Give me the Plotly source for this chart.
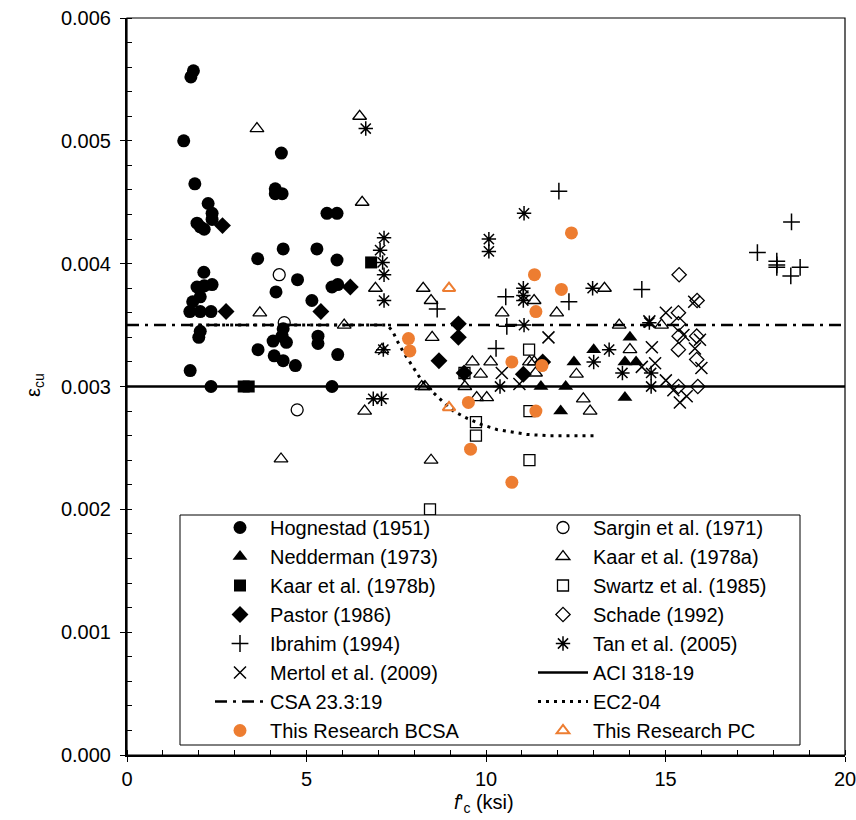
import plotly.graph_objects as go

# ---------------- data (f'c in ksi, eps_cu) ----------------
hog_x = [1.85, 1.78, 1.58, 4.30, 1.89, 4.13, 4.13, 4.32, 2.26, 2.37, 2.37, 1.95, 2.04, 2.15, 5.57, 5.85,
         4.35, 5.29, 3.64, 5.85, 2.14, 1.95, 2.15, 2.37, 2.04, 1.83, 1.75, 2.04, 2.34, 4.75, 4.15, 5.15,
         5.71, 5.87, 4.35, 4.32, 4.44, 4.07, 4.10, 4.35, 4.69, 3.65, 2.04, 2.00, 1.76, 5.32, 5.32, 5.87,
         2.34, 5.71]
hog_y = [0.00557, 0.00552, 0.00500, 0.00490, 0.00465, 0.00461, 0.00457, 0.00457, 0.00449, 0.00441, 0.00436,
         0.00433, 0.00430, 0.00428, 0.00441, 0.00441, 0.00412, 0.00412, 0.00404, 0.00403, 0.00393, 0.00381,
         0.00382, 0.00383, 0.00373, 0.00369, 0.00361, 0.00361, 0.00361, 0.00387, 0.00377, 0.00370, 0.00381,
         0.00383, 0.00347, 0.00341, 0.00336, 0.00337, 0.00325, 0.00321, 0.00317, 0.00330, 0.00345, 0.00340,
         0.00313, 0.00341, 0.00335, 0.00326, 0.00300, 0.00300]

sar_x = [4.24, 4.74, 4.38]
sar_y = [0.00391, 0.00281, 0.00352]

ned_x = [11.53, 12.22, 12.45, 13.00, 12.08, 13.87, 14.18, 14.01, 13.87]
ned_y = [0.00300, 0.00300, 0.00320, 0.00330, 0.00280, 0.00320, 0.00320, 0.00340, 0.00291]

kaa_x = [3.62, 6.48, 6.55, 3.70, 6.92, 6.05, 6.62, 4.29, 8.25, 8.47, 10.45, 11.34, 11.97, 13.30, 8.50,
         9.62, 10.13, 11.21, 11.34, 9.85, 11.38, 12.52, 8.21, 8.30, 9.41, 9.74, 10.02, 12.71, 12.90, 8.47,
         13.71, 14.89, 14.01, 7.10]
kaa_y = [0.00510, 0.00520, 0.00450, 0.00360, 0.00380, 0.00350, 0.00280, 0.00241, 0.00380, 0.00370, 0.00360,
         0.00370, 0.00360, 0.00380, 0.00340, 0.00320, 0.00320, 0.00320, 0.00320, 0.00310, 0.00311, 0.00310,
         0.00300, 0.00300, 0.00300, 0.00291, 0.00291, 0.00290, 0.00280, 0.00240, 0.00350, 0.00350, 0.00330,
         0.00330]

kab_x = [6.80, 3.25, 3.39]
kab_y = [0.00401, 0.00300, 0.00300]

swa_x = [9.40, 11.20, 11.21, 9.72, 9.72, 11.21, 8.44]
swa_y = [0.00311, 0.00330, 0.00280, 0.00271, 0.00260, 0.00240, 0.00200]

pas_x = [2.66, 2.76, 5.40, 6.22, 9.23, 9.23, 8.69, 9.39, 11.04, 11.58]
pas_y = [0.00431, 0.00361, 0.00361, 0.00381, 0.00351, 0.00340, 0.00321, 0.00311, 0.00310, 0.00320]

sch_x = [15.38, 15.36, 15.36, 15.38, 15.36, 15.88, 15.87, 15.87, 15.36, 15.90]
sch_y = [0.00391, 0.00360, 0.00351, 0.00341, 0.00330, 0.00370, 0.00341, 0.00322, 0.00300, 0.00300]

ibr_x = [12.03, 8.64, 10.55, 12.31, 10.58, 10.28, 14.34, 17.56, 18.51, 18.10, 18.10, 18.10, 18.75, 18.49]
ibr_y = [0.00459, 0.00363, 0.00373, 0.00369, 0.00349, 0.00331, 0.00379, 0.00409, 0.00434, 0.00402,
         0.00399, 0.00397, 0.00397, 0.00390]

tan_x = [6.65, 7.16, 7.05, 7.12, 7.16, 7.16, 7.14, 6.86, 7.09, 10.08, 10.08, 11.06, 11.04, 11.04, 11.04,
         11.06, 10.39, 12.97, 13.00, 13.43, 13.80, 14.55, 14.60, 14.60]
tan_y = [0.00510, 0.00421, 0.00411, 0.00401, 0.00391, 0.00370, 0.00330, 0.00290, 0.00290, 0.00420, 0.00410,
         0.00441, 0.00380, 0.00374, 0.00370, 0.00350, 0.00300, 0.00380, 0.00320, 0.00330, 0.00311, 0.00352,
         0.00311, 0.00300]

mer_x = [10.44, 10.93, 11.74, 14.55, 15.01, 15.80, 15.96, 15.82, 15.50, 16.00, 14.62, 14.34, 14.71, 15.01,
         15.22, 15.59, 15.40]
mer_y = [0.00311, 0.00302, 0.00340, 0.00353, 0.00360, 0.00369, 0.00338, 0.00331, 0.00342, 0.00315, 0.00332,
         0.00316, 0.00319, 0.00305, 0.00297, 0.00292, 0.00287]

aci_x = [0, 20]
aci_y = [0.003, 0.003]

csa_x = [0, 20]
csa_y = [0.0035, 0.0035]

ec2_x = [1.76, 7.25, 7.40, 7.51, 7.70, 7.93, 8.16, 8.39, 8.63, 8.86, 9.09, 9.28, 9.48, 9.88, 10.30, 10.72,
         11.13, 11.70, 13.08]
ec2_y = [0.00350, 0.00350, 0.00345, 0.00338, 0.00328, 0.00317, 0.00307, 0.00299, 0.00292, 0.00286, 0.00280,
         0.00277, 0.00274, 0.00269, 0.00265, 0.00263, 0.00261, 0.00260, 0.00260]

bcsa_x = [7.84, 7.88, 9.51, 9.57, 10.72, 10.72, 11.35, 11.39, 11.39, 11.56, 12.10, 12.38]
bcsa_y = [0.00339, 0.00329, 0.00287, 0.00249, 0.00320, 0.00222, 0.00391, 0.00361, 0.00280, 0.00317,
          0.00379, 0.00425]

pc_x = [8.97, 8.97]
pc_y = [0.00380, 0.00283]

# ---------------- figure ----------------
BLACK = "black"
ORANGE = "#ED7D31"
FONT = "Liberation Sans, Arial, sans-serif"
FS = 20

# plot area in pixels
PL, PR, PT, PB = 127, 845, 18, 755
PW, PH = PR - PL, PB - PT


def px_x(p):
    return (p - PL) / PW


def px_y(p):
    return (PB - p) / PH


fig = go.Figure()


def pts(name, x, y, symbol, size, color=BLACK, lw=1.3):
    fig.add_trace(go.Scatter(
        x=x, y=y, name=name, mode="markers",
        marker=dict(symbol=symbol, size=size, color=color,
                    line=dict(color=color, width=lw)),
    ))


def line(name, x, y, dash, width):
    fig.add_trace(go.Scatter(
        x=x, y=y, name=name, mode="lines",
        line=dict(color=BLACK, width=width, dash=dash),
    ))


pts("Hognestad (1951)", hog_x, hog_y, "circle", 13, lw=0)
pts("Sargin et al. (1971)", sar_x, sar_y, "circle-open", 12)
pts("Nedderman (1973)", ned_x, ned_y, "triangle-up", 13, lw=0)
pts("Kaar et al. (1978a)", kaa_x, kaa_y, "triangle-up-open", 12)
pts("Kaar et al. (1978b)", kab_x, kab_y, "square", 12, lw=0)
pts("Swartz et al. (1985)", swa_x, swa_y, "square-open", 11)
pts("Pastor (1986)", pas_x, pas_y, "diamond", 13, lw=0)
pts("Schade (1992)", sch_x, sch_y, "diamond-open", 11)
pts("Ibrahim (1994)", ibr_x, ibr_y, "cross-thin-open", 12, lw=1.5)
pts("Tan et al. (2005)", tan_x, tan_y, "asterisk-open", 12, lw=1.5)
pts("Mertol et al. (2009)", mer_x, mer_y, "x-thin-open", 12, lw=1.5)
line("ACI 318-19", aci_x, aci_y, "solid", 2.5)
line("CSA 23.3:19", csa_x, csa_y, "12px,6px,3px,6px", 2.5)
line("EC2-04", ec2_x, ec2_y, "3px,5px", 3)
pts("This Research BCSA", bcsa_x, bcsa_y, "circle", 13, color=ORANGE, lw=0)
pts("This Research PC", pc_x, pc_y, "triangle-up-open", 11, color=ORANGE, lw=2)

fig.update_layout(
    width=856, height=820,
    margin=dict(l=PL, r=856 - PR, t=PT, b=820 - PB, autoexpand=False),
    paper_bgcolor="white", plot_bgcolor="white",
    font=dict(family=FONT, size=FS, color=BLACK),
    showlegend=True,
    legend=dict(
        orientation="h",
        x=px_x(210), y=px_y(508),
        xanchor="left", yanchor="top",
        entrywidth=258, entrywidthmode="pixels",
        itemwidth=50,
        bgcolor="rgba(0,0,0,0)", borderwidth=0,
        font=dict(family=FONT, size=FS, color=BLACK),
        tracegroupgap=0,
    ),
    xaxis=dict(
        range=[0, 20], tickvals=[0, 5, 10, 15, 20],
        showgrid=False, zeroline=False,
        showline=True, linecolor=BLACK, linewidth=2,
        ticks="outside", ticklen=5, tickwidth=1, tickcolor=BLACK,
        minor=dict(dtick=1, ticks="inside", ticklen=5, tickwidth=1, tickcolor=BLACK, showgrid=False),
        tickfont=dict(family=FONT, size=FS),
        ticklabeloverflow="allow",
    ),
    yaxis=dict(
        range=[0, 0.006], dtick=0.001, tickformat=".3f",
        showgrid=False, zeroline=False,
        showline=True, linecolor=BLACK, linewidth=2,
        ticks="outside", ticklen=5, tickwidth=1, tickcolor=BLACK,
        minor=dict(dtick=0.0002, ticks="inside", ticklen=5, tickwidth=1, tickcolor=BLACK, showgrid=False),
        tickfont=dict(family=FONT, size=FS),
        ticklabeloverflow="allow",
        ticklabelstandoff=5,
    ),
)

# plot-area border (top/right)
fig.add_shape(type="rect", xref="paper", yref="paper", x0=0, y0=0, x1=1, y1=1,
              line=dict(color=BLACK, width=1.2), fillcolor="rgba(0,0,0,0)", layer="above")

# legend box
fig.add_shape(type="rect", xref="paper", yref="paper",
              x0=px_x(180), x1=px_x(800), y0=px_y(745), y1=px_y(515),
              line=dict(color=BLACK, width=1), fillcolor="white", layer="above")

# axis titles
fig.add_annotation(text="ε<sub>cu</sub>", xref="paper", yref="paper",
                   x=px_x(35), y=px_y(385), showarrow=False, textangle=-90,
                   font=dict(family=FONT, size=FS), xanchor="center", yanchor="middle")
fig.add_annotation(text="<i>f</i>'<sub>c</sub> (ksi)", xref="paper", yref="paper",
                   x=px_x(484), y=px_y(803), showarrow=False,
                   font=dict(family=FONT, size=FS), xanchor="center", yanchor="middle")

fig.write_html("out.html")
